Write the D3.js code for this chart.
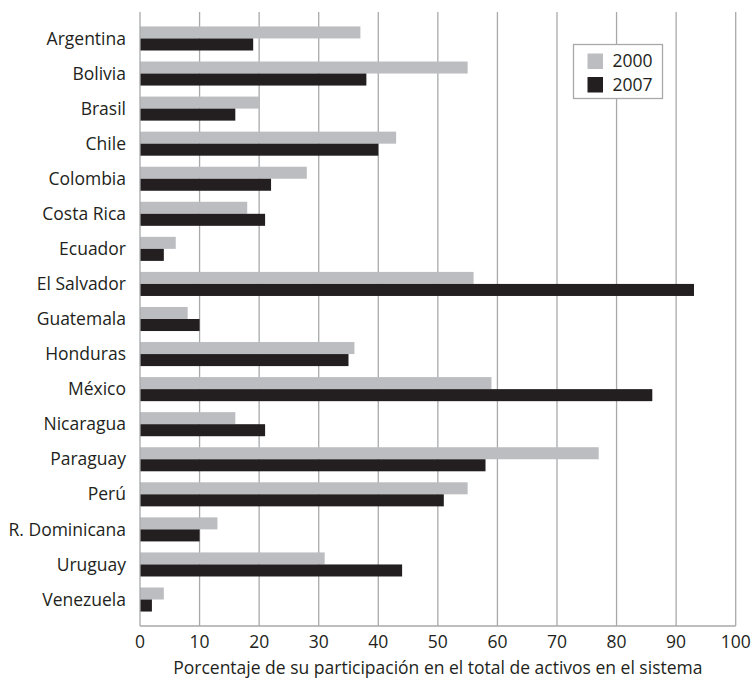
<!DOCTYPE html>
<html>
<head>
<meta charset="utf-8">
<script src="https://cdn.jsdelivr.net/npm/d3@7"></script>
<style>
  html, body { margin: 0; padding: 0; background: #fff; }
  svg { display: block; font-family: "Open Sans", Lato, sans-serif; }
</style>
</head>
<body>
<svg id="chart" width="752" height="678"></svg>
<script>
// Country categories, top to bottom
const countries = ["Argentina", "Bolivia", "Brasil", "Chile", "Colombia", "Costa Rica",
  "Ecuador", "El Salvador", "Guatemala", "Honduras", "México", "Nicaragua",
  "Paraguay", "Perú", "R. Dominicana", "Uruguay", "Venezuela"];

// Share of total system assets (%)
const values2000 = [37, 55, 20, 43, 28, 18, 6, 56, 8, 36, 59, 16, 77, 55, 13, 31, 4];
const values2007 = [19, 38, 16, 40, 22, 21, 4, 93, 10, 35, 86, 21, 58, 51, 10, 44, 2];

const seriesNames = ["2000", "2007"];
const seriesColors = ["#bcbdc0", "#231f20"];
const xTicks = [0, 10, 20, 30, 40, 50, 60, 70, 80, 90, 100];
const xTitle = "Porcentaje de su participación en el total de activos en el sistema";

const svg = d3.select("#chart");
const margin = { left: 140, right: 16.3, top: 12, bottom: 52 };
const W = 752, H = 678;
const fontSize = 17.5;
const textColor = "#231f20";

const x = d3.scaleLinear().domain([0, 100]).range([margin.left, W - margin.right]);
const y = d3.scaleBand().domain(countries)
  .range([margin.top, H - margin.bottom])
  .paddingInner(0.314).paddingOuter(0.412);
const ySub = d3.scaleBand().domain(seriesNames).range([0, y.bandwidth()]);

const gridColor = "#a8a9ab";

// Vertical gridlines
svg.append("g").selectAll("line").data(xTicks.slice(1)).join("line")
  .attr("x1", d => x(d)).attr("x2", d => x(d))
  .attr("y1", margin.top).attr("y2", H - margin.bottom)
  .attr("stroke", gridColor).attr("stroke-width", 1.3);

// Bars
const rows = countries.map((c, i) => ({ country: c, vals: [values2000[i], values2007[i]] }));
const groups = svg.append("g").selectAll("g").data(rows).join("g")
  .attr("transform", d => `translate(0,${y(d.country)})`);
groups.selectAll("rect").data(d => d.vals.map((v, j) => ({ v, j }))).join("rect")
  .attr("x", x(0))
  .attr("y", d => ySub(seriesNames[d.j]))
  .attr("width", d => x(d.v) - x(0))
  .attr("height", ySub.bandwidth())
  .attr("fill", d => seriesColors[d.j]);

// Left and bottom axis lines
svg.append("line")
  .attr("x1", x(0)).attr("x2", x(0))
  .attr("y1", margin.top).attr("y2", H - margin.bottom)
  .attr("stroke", gridColor).attr("stroke-width", 1.3);
svg.append("line")
  .attr("x1", x(0)).attr("x2", x(100))
  .attr("y1", H - margin.bottom).attr("y2", H - margin.bottom)
  .attr("stroke", gridColor).attr("stroke-width", 1.3);

// Category labels
svg.append("g").selectAll("text").data(countries).join("text")
  .attr("x", 126)
  .attr("y", d => y(d) + y.bandwidth() / 2)
  .attr("dy", "0.35em")
  .attr("text-anchor", "end")
  .attr("font-size", fontSize)
  .attr("fill", textColor)
  .text(d => d);

// X tick labels
svg.append("g").selectAll("text").data(xTicks).join("text")
  .attr("x", d => x(d))
  .attr("y", 648)
  .attr("text-anchor", "middle")
  .attr("font-size", fontSize)
  .attr("fill", textColor)
  .text(d => d);

// X axis title
svg.append("text")
  .attr("x", (x(0) + x(100)) / 2)
  .attr("y", 674)
  .attr("text-anchor", "middle")
  .attr("font-size", fontSize)
  .attr("fill", textColor)
  .text(xTitle);

// Legend
const lg = svg.append("g").attr("transform", "translate(573.5,44.5)");
lg.append("rect").attr("width", 89).attr("height", 54)
  .attr("fill", "#fff").attr("stroke", gridColor).attr("stroke-width", 1.3);
seriesNames.forEach((s, i) => {
  lg.append("rect").attr("x", 14).attr("y", 9 + i * 23.5)
    .attr("width", 15.5).attr("height", 15.5).attr("fill", seriesColors[i]);
  lg.append("text").attr("x", 39).attr("y", 22.5 + i * 23.5)
    .attr("font-size", fontSize).attr("fill", textColor).text(s);
});
</script>
</body>
</html>
